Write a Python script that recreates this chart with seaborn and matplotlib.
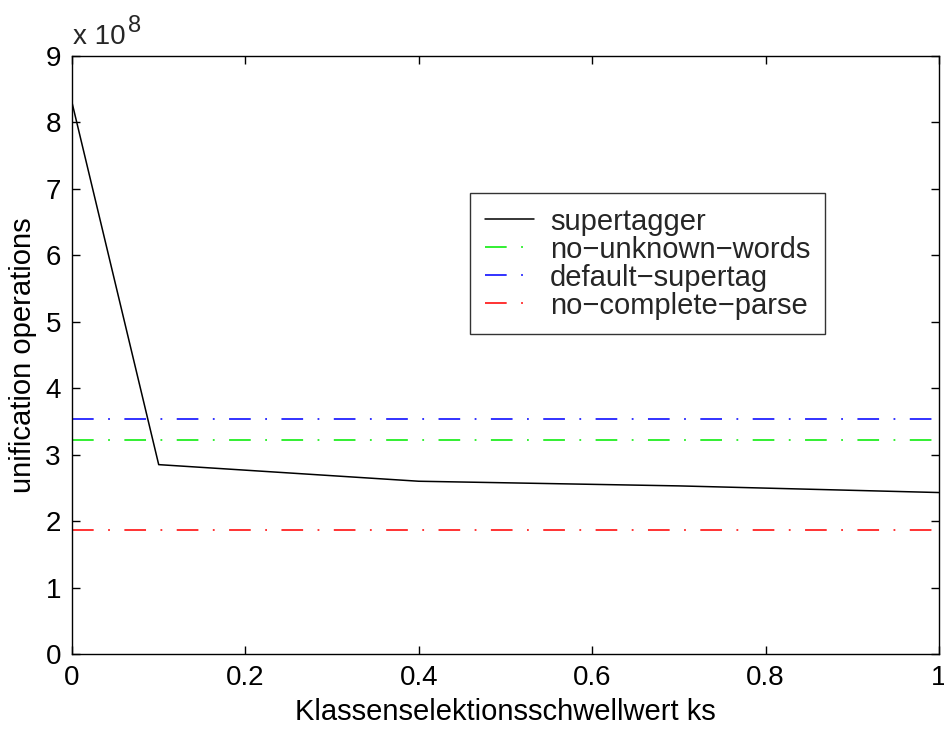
import matplotlib
matplotlib.use("Agg")
import matplotlib.pyplot as plt
import seaborn as sns
import pandas as pd

# data
ks = [0.0, 0.1, 0.4, 0.7, 1.0]
supertagger = [8.3e8, 2.85e8, 2.60e8, 2.53e8, 2.43e8]
const_x = [0.0, 1.0]
no_unknown_words = 3.22e8
default_supertag = 3.53e8
no_complete_parse = 1.87e8
series_names = ["supertagger", "no\u2212unknown\u2212words", "default\u2212supertag", "no\u2212complete\u2212parse"]
colors = ["black", "#22ee22", "#2222ff", "#ff2222"]
yticks = list(range(0, 10))
xticks = [0, 0.2, 0.4, 0.6, 0.8, 1]
xtick_labels = ["0", "0.2", "0.4", "0.6", "0.8", "1"]

sns.set_theme(style="white")
plt.rcParams["font.family"] = ["Liberation Sans", "DejaVu Sans"]

FS = 21
TFS = 20
fig = plt.figure(figsize=(9.45, 7.31), dpi=100)
ax = fig.add_axes([72/945, 77/731, 867/945, 598/731])

df = pd.DataFrame({"ks": ks, "val": supertagger})
sns.lineplot(data=df, x="ks", y="val", ax=ax, color=colors[0], lw=1.1, label=series_names[0])
for name, v, c in zip(series_names[1:], [no_unknown_words, default_supertag, no_complete_parse], colors[1:]):
    d = pd.DataFrame({"ks": const_x, "val": [v, v]})
    sns.lineplot(data=d, x="ks", y="val", ax=ax, color=c, lw=1.3, label=name,
                 linestyle=(0, (12, 8, 1, 8)))

ax.set_xlim(0, 1)
ax.set_ylim(0, 9e8)
ax.set_yticks([t * 1e8 for t in yticks])
ax.set_yticklabels([str(t) for t in yticks])
ax.set_xticks(xticks)
ax.set_xticklabels(xtick_labels)
ax.tick_params(direction="in", length=6, width=1, colors="black", labelsize=TFS,
               top=True, right=True, left=True, bottom=True, pad=8)
for s in ax.spines.values():
    s.set_color("black")
    s.set_linewidth(1.0)
ax.set_xlabel("Klassenselektionsschwellwert ks", fontsize=FS, color="black", labelpad=5)
ax.set_ylabel("unification operations", fontsize=FS, color="black", labelpad=6)

fig.text(73/945, 1 - 44/731, "x 10", fontsize=20, ha="left", va="baseline")
fig.text(128/945, 1 - 32/731, "8", fontsize=17, ha="left", va="baseline")

leg = ax.legend(loc="upper left", bbox_to_anchor=((470-72)/867, (653-192)/598),
                fontsize=FS, frameon=True, fancybox=False, handlelength=1.7,
                borderpad=0.5, labelspacing=0.0, handletextpad=0.55, borderaxespad=0)
leg.get_frame().set_edgecolor("black")
leg.get_frame().set_linewidth(1.0)

fig.savefig("out.png", dpi=100, facecolor="white")
